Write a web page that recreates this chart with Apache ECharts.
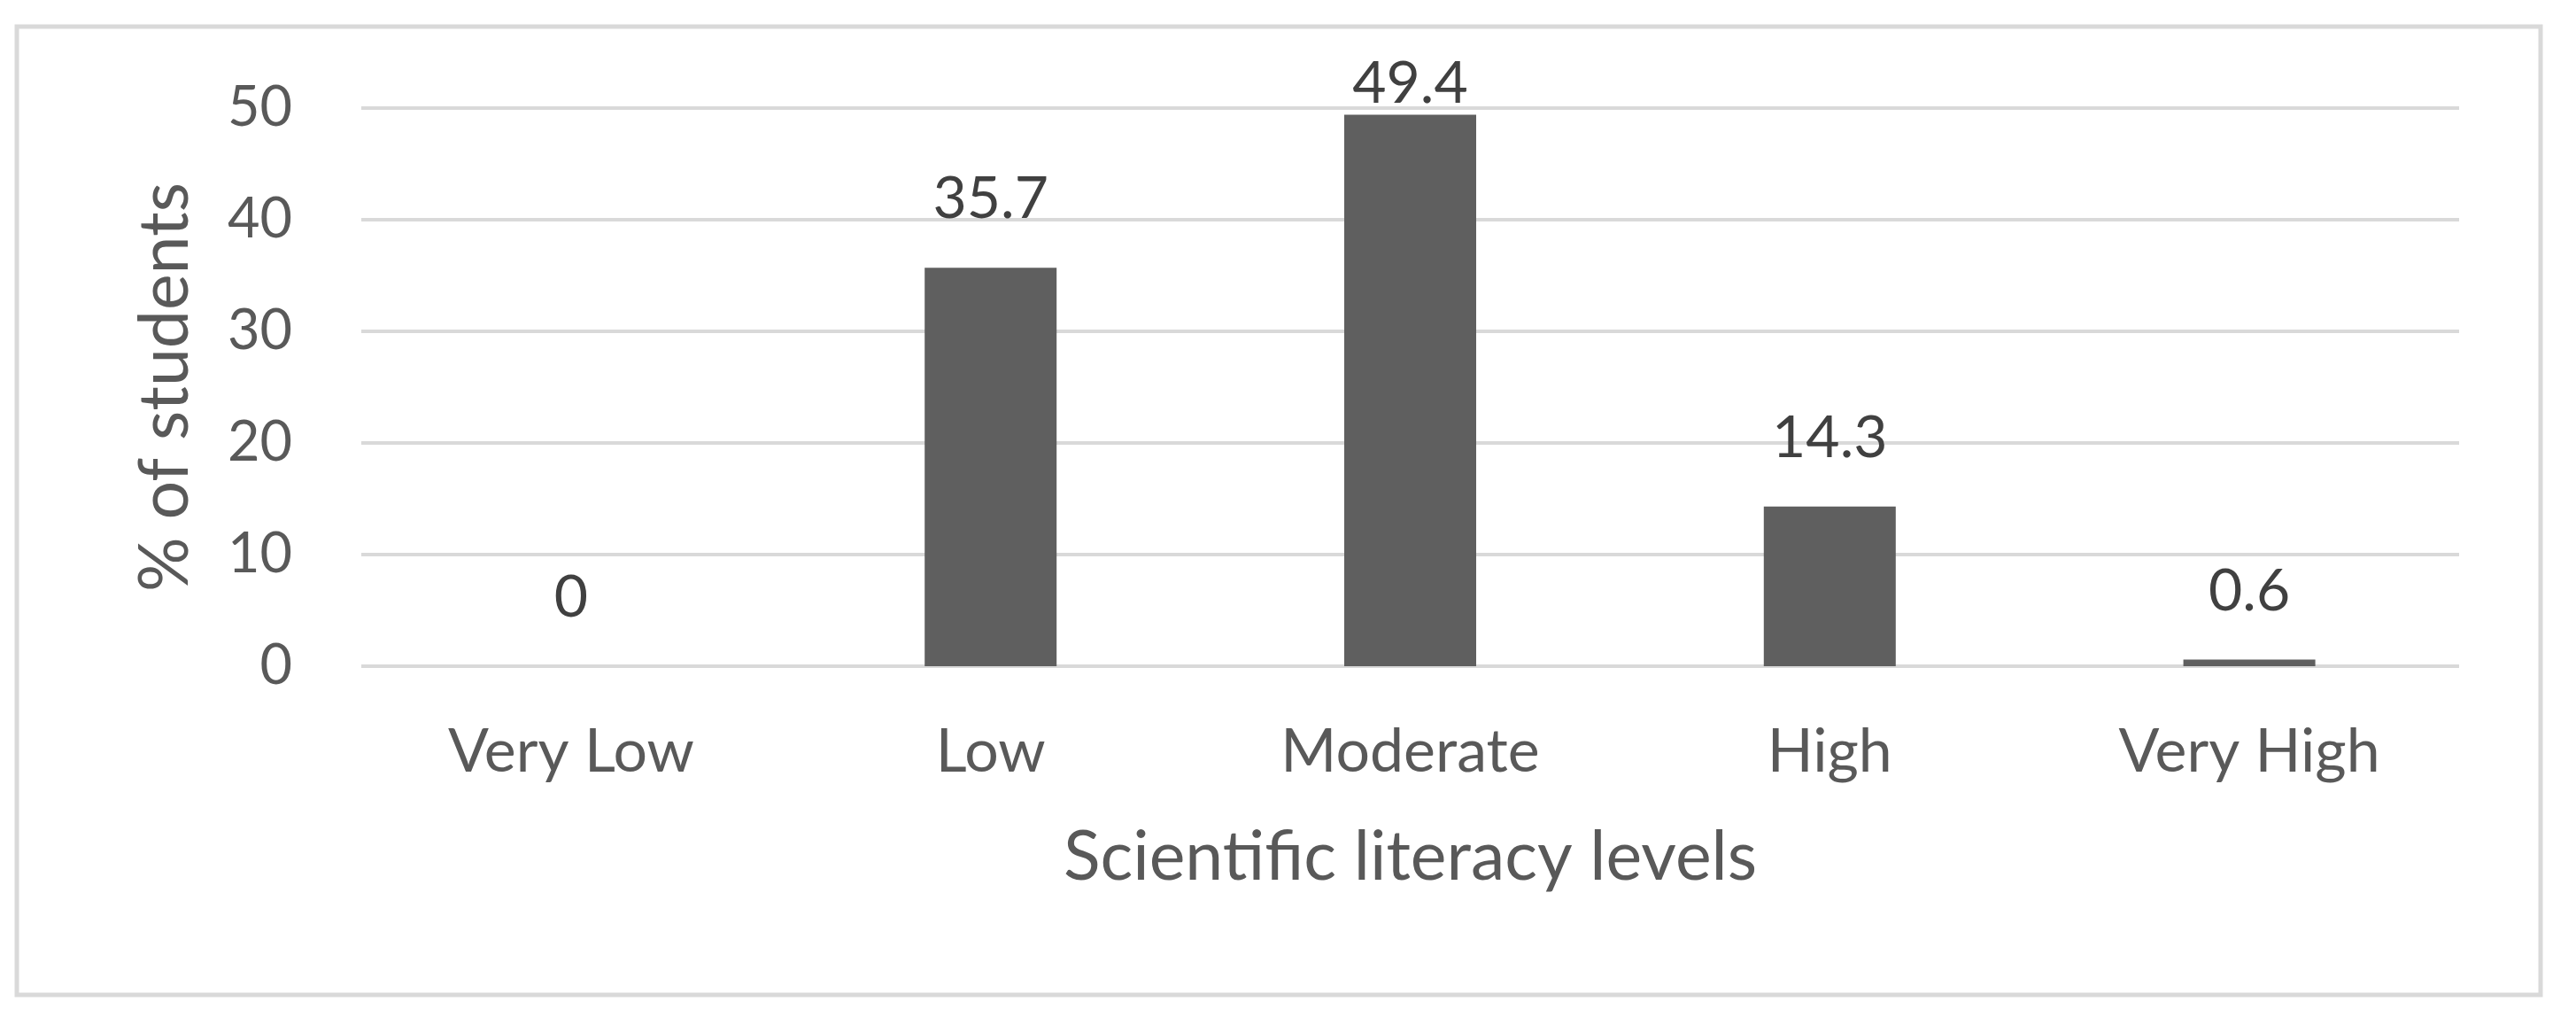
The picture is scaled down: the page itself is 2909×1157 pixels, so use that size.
<!DOCTYPE html>
<html>
<head>
<meta charset="utf-8">
<script src="https://cdn.jsdelivr.net/npm/echarts@6/dist/echarts.min.js"></script>
<style>
html,body{margin:0;padding:0;background:#fff;}
#c{width:2909px;height:1157px;}
</style>
</head>
<body>
<div id="c"></div>
<script>
var categories = ["Very Low", "Low", "Moderate", "High", "Very High"];
var values = [0, 35.7, 49.4, 14.3, 0.6];
var yTicks = [0, 10, 20, 30, 40, 50];
var xTitle = "Scientific literacy levels";
var yTitle = "% of students";

var FONT = "Lato";
var yTickSize = 63;
var xTickSize = 68;
var titleSize = 77;
var labelSize = 66;

var chart = echarts.init(document.getElementById('c'), null, {renderer: 'canvas'});
var data = values.map(function (v, i) {
  var item = {value: v};
  if (v > 45) {
    item.label = {distance: 2};
  }
  return item;
});
chart.setOption({
  animation: false,
  backgroundColor: '#ffffff',
  graphic: [{
    type: 'rect',
    shape: {x: 19, y: 30, width: 2850, height: 1093},
    style: {fill: 'none', stroke: '#d9d9d9', lineWidth: 5}
  }],
  grid: {left: 408, right: 132, top: 122, bottom: 1157 - 752, containLabel: false},
  xAxis: {
    type: 'category',
    data: categories,
    axisLine: {show: false},
    axisTick: {show: false},
    axisLabel: {color: '#595959', fontFamily: FONT, fontSize: xTickSize, margin: 63},
    name: xTitle,
    nameLocation: 'middle',
    nameGap: 178,
    nameTextStyle: {color: '#595959', fontFamily: FONT, fontSize: titleSize}
  },
  yAxis: {
    type: 'value',
    min: yTicks[0],
    max: yTicks[yTicks.length - 1],
    interval: yTicks[1] - yTicks[0],
    axisLine: {show: false},
    axisTick: {show: false},
    splitLine: {lineStyle: {color: '#d9d9d9', width: 4}},
    axisLabel: {color: '#595959', fontFamily: FONT, fontSize: yTickSize, margin: 78},
    name: yTitle,
    nameLocation: 'middle',
    nameRotate: 90,
    nameGap: 182,
    nameTextStyle: {color: '#595959', fontFamily: FONT, fontSize: titleSize}
  },
  series: [{
    type: 'bar',
    data: data,
    barWidth: 149,
    itemStyle: {color: '#5f5f5f'},
    label: {
      show: true,
      position: 'top',
      distance: 44,
      color: '#404040',
      fontFamily: FONT,
      fontSize: labelSize
    }
  }]
});
</script>
</body>
</html>
